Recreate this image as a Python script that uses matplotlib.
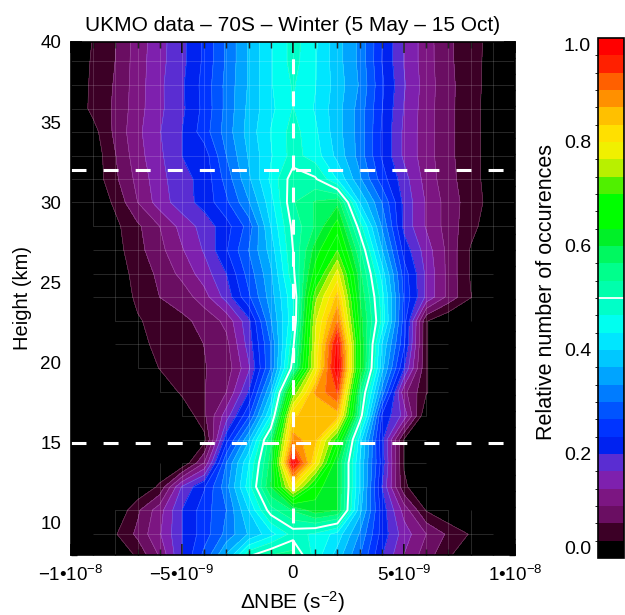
import numpy as np
import matplotlib
matplotlib.use('Agg')
import matplotlib.pyplot as plt
from matplotlib.colors import ListedColormap, BoundaryNorm
from matplotlib.collections import LineCollection
from matplotlib.ticker import FixedLocator, FixedFormatter, MultipleLocator

plt.rcParams['font.family'] = ['Liberation Sans', 'DejaVu Sans']
plt.rcParams['mathtext.fontset'] = 'custom'
plt.rcParams['mathtext.rm'] = 'Liberation Sans'
plt.rcParams['mathtext.it'] = 'Liberation Sans:italic'
plt.rcParams['mathtext.bf'] = 'Liberation Sans:bold'

# ---------------- data ----------------
dnbe_bins = [-1.0e-8, -9e-9, -8e-9, -7e-9, -6e-9, -5e-9, -4e-9, -3e-9, -2e-9, -1e-9, 0.0,
             1e-9, 2e-9, 3e-9, 4e-9, 5e-9, 6e-9, 7e-9, 8e-9, 9e-9, 1.0e-8]
heights = [7.8, 9.3, 10.8, 12.25, 13.75, 15.2, 16.7, 18.15, 19.65, 21.15, 22.6, 24.1,
           25.55, 27.0, 28.5, 30.0, 31.45, 32.9, 34.4, 35.85, 37.3, 38.8, 40.25]

occ_07_8 = [0, 0, 0, 0.035, 0.10, 0.20, 0.28, 0.38, 0.51, 0.55, 0.56, 0.45, 0.38, 0.30, 0.20, 0.13, 0.08, 0.035, 0, 0, 0]
occ_09_3 = [0, 0, 0.03, 0.075, 0.13, 0.20, 0.25, 0.31, 0.37, 0.42, 0.48, 0.46, 0.42, 0.33, 0.22, 0.15, 0.10, 0.06, 0.03, 0, 0]
occ_10_8 = [0, 0, 0, 0.06, 0.12, 0.20, 0.25, 0.30, 0.40, 0.52, 0.57, 0.62, 0.60, 0.38, 0.22, 0.12, 0.03, 0, 0, 0, 0]
occ_12_3 = [0, 0, 0, 0, 0.04, 0.17, 0.23, 0.32, 0.45, 0.60, 0.80, 0.65, 0.60, 0.40, 0.20, 0.04, 0, 0, 0, 0, 0]
occ_13_8 = [0, 0, 0, 0, 0, 0, 0.10, 0.30, 0.43, 0.58, 0.99, 0.80, 0.60, 0.40, 0.22, 0.03, 0, 0, 0, 0, 0]
occ_15_2 = [0, 0, 0, 0, 0, 0, 0.02, 0.22, 0.36, 0.56, 0.88, 0.845, 0.68, 0.42, 0.21, 0.03, 0, 0, 0, 0, 0]
occ_16_7 = [0, 0, 0, 0, 0, 0, 0.06, 0.15, 0.26, 0.435, 0.83, 0.845, 0.85, 0.53, 0.23, 0.155, 0, 0, 0, 0, 0]
occ_18_2 = [0, 0, 0, 0, 0, 0.04, 0.065, 0.10, 0.20, 0.367, 0.70, 0.87, 0.935, 0.56, 0.32, 0.11, 0.036, 0, 0, 0, 0]
occ_19_7 = [0, 0, 0, 0, 0.035, 0.05, 0.065, 0.08, 0.16, 0.30, 0.52, 0.78, 1.0, 0.64, 0.38, 0.20, 0.036, 0, 0, 0, 0]
occ_21_2 = [0, 0, 0, 0.02, 0.045, 0.055, 0.067, 0.09, 0.18, 0.30, 0.49, 0.77, 0.98, 0.64, 0.40, 0.24, 0.036, 0, 0, 0, 0]
occ_22_6 = [0, 0, 0, 0.03, 0.045, 0.06, 0.075, 0.11, 0.19, 0.33, 0.46, 0.76, 0.90, 0.62, 0.46, 0.25, 0.036, 0, 0, 0, 0]
occ_24_1 = [0, 0, 0.01, 0.04, 0.067, 0.08, 0.12, 0.18, 0.26, 0.35, 0.46, 0.72, 0.845, 0.60, 0.45, 0.26, 0.16, 0.09, 0.035, 0, 0]
occ_25_6 = [0, 0, 0.015, 0.045, 0.075, 0.11, 0.15, 0.20, 0.28, 0.36, 0.49, 0.65, 0.78, 0.58, 0.42, 0.25, 0.16, 0.09, 0.03, 0, 0]
occ_27_0 = [0, 0, 0.02, 0.055, 0.09, 0.13, 0.17, 0.23, 0.30, 0.38, 0.50, 0.615, 0.70, 0.543, 0.37, 0.22, 0.15, 0.09, 0.03, 0, 0]
occ_28_5 = [0, 0, 0.025, 0.06, 0.10, 0.145, 0.18, 0.22, 0.28, 0.40, 0.51, 0.57, 0.65, 0.483, 0.33, 0.19, 0.13, 0.085, 0.045, 0.01, 0]
occ_30_0 = [0, 0.005, 0.04, 0.10, 0.15, 0.185, 0.212, 0.26, 0.33, 0.42, 0.53, 0.57, 0.59, 0.40, 0.30, 0.19, 0.13, 0.085, 0.05, 0.02, 0]
occ_31_5 = [0, 0.01, 0.06, 0.11, 0.155, 0.19, 0.21, 0.28, 0.36, 0.44, 0.52, 0.505, 0.43, 0.34, 0.25, 0.18, 0.12, 0.078, 0.047, 0.017, 0]
occ_32_9 = [0, 0.01, 0.065, 0.12, 0.16, 0.20, 0.215, 0.30, 0.37, 0.43, 0.48, 0.45, 0.39, 0.32, 0.23, 0.16, 0.115, 0.075, 0.046, 0.017, 0]
occ_34_4 = [0, 0.02, 0.075, 0.125, 0.165, 0.20, 0.25, 0.315, 0.38, 0.435, 0.48, 0.44, 0.38, 0.32, 0.23, 0.16, 0.115, 0.075, 0.046, 0.017, 0]
occ_35_9 = [0, 0.044, 0.072, 0.12, 0.16, 0.193, 0.243, 0.31, 0.375, 0.425, 0.468, 0.43, 0.38, 0.32, 0.235, 0.165, 0.115, 0.075, 0.046, 0.017, 0]
occ_37_3 = [0, 0.042, 0.07, 0.118, 0.16, 0.195, 0.245, 0.31, 0.37, 0.43, 0.47, 0.435, 0.385, 0.33, 0.24, 0.17, 0.118, 0.075, 0.048, 0.018, 0]
occ_38_8 = [0, 0.039, 0.067, 0.117, 0.157, 0.19, 0.24, 0.305, 0.37, 0.43, 0.48, 0.436, 0.38, 0.325, 0.233, 0.165, 0.115, 0.073, 0.047, 0.02, 0]
occ_40_3 = [0, 0.035, 0.065, 0.115, 0.155, 0.19, 0.24, 0.305, 0.37, 0.43, 0.48, 0.44, 0.38, 0.325, 0.235, 0.165, 0.115, 0.072, 0.047, 0.022, 0]

ref_heights = [15, 32]          # dashed horizontal reference lines (km)
ref_dnbe = [0.0]                # dashed vertical reference line
highlight_level = 0.5           # white contour

xtick_vals = [-1e-8, -5e-9, 0.0, 5e-9, 1e-8]
xtick_labels = ['\u22121\u202210$^{-8}$', '\u22125\u202210$^{-9}$', '0', '5\u202210$^{-9}$', '1\u202210$^{-8}$']
ytick_vals = [10, 15, 20, 25, 30, 35, 40]
cbar_ticks = [0.0, 0.2, 0.4, 0.6, 0.8, 1.0]

title = 'UKMO data \u2013 70S \u2013 Winter (5 May \u2013 15 Oct)'
xlabel = '\u0394NBE (s$^{-2}$)'
ylabel = 'Height (km)'
cbar_label = 'Relative number of occurences'

# ---------------- colours ----------------
colors = ['#000000', '#3c0026', '#6a0e62', '#7c1682', '#7e20ae', '#5a2dd2',
          '#0022f0', '#0034ff', '#0054ff', '#007cff', '#00a4ff', '#00c8ff',
          '#00e6ff', '#00fff0', '#00ffc8', '#00ffac', '#00ff8c', '#00f860',
          '#00f028', '#00ff00', '#00ff00', '#50f000', '#b8f000', '#f0f000',
          '#ffe000', '#ffc000', '#ff9000', '#ff6000', '#ff2000', '#ff0000']
levels = np.linspace(0, 1, 31)
cmap = ListedColormap(colors)
norm = BoundaryNorm(levels, cmap.N)

occ = np.array([occ_07_8, occ_09_3, occ_10_8, occ_12_3, occ_13_8, occ_15_2, occ_16_7,
                occ_18_2, occ_19_7, occ_21_2, occ_22_6, occ_24_1, occ_25_6, occ_27_0,
                occ_28_5, occ_30_0, occ_31_5, occ_32_9, occ_34_4, occ_35_9, occ_37_3,
                occ_38_8, occ_40_3])
X = np.array(dnbe_bins)
Y = np.array(heights)

# ---------------- figure ----------------
W, H = 625, 615
fig = plt.figure(figsize=(W / 100, H / 100), dpi=100)
ax = fig.add_axes([71 / W, 1 - 555 / H, 444 / W, 513 / H])
ax.set_facecolor('black')

cf = ax.contourf(X, Y, occ, levels=levels, cmap=cmap, norm=norm)
ax.contour(X, Y, occ, levels=levels[1:-1], colors='white', linewidths=0.4, alpha=0.3)

# faint data-grid lines where data present
segs = []
for i in range(len(Y)):
    for j in range(len(X) - 1):
        if max(occ[i, j], occ[i, j + 1]) > 0:
            segs.append([(X[j], Y[i]), (X[j + 1], Y[i])])
for j in range(len(X)):
    for i in range(len(Y) - 1):
        if max(occ[i, j], occ[i + 1, j]) > 0:
            segs.append([(X[j], Y[i]), (X[j], Y[i + 1])])
ax.add_collection(LineCollection(segs, colors=[(1, 1, 1, 0.22)], linewidths=0.5))

ax.contour(X, Y, occ, levels=[highlight_level], colors='white', linewidths=1.4)

dash = (0, (4.9, 5.6))
for h in ref_heights:
    ax.axhline(h, color='white', lw=2.2, ls=dash)
for v in ref_dnbe:
    ax.axvline(v, color='white', lw=2.2, ls=dash)

ax.set_xlim(-1e-8, 1e-8)
ax.set_ylim(8, 40)
ax.xaxis.set_major_locator(FixedLocator(xtick_vals))
ax.xaxis.set_major_formatter(FixedFormatter(xtick_labels))
ax.xaxis.set_minor_locator(MultipleLocator(1e-9))
ax.yaxis.set_major_locator(FixedLocator(ytick_vals))
ax.yaxis.set_minor_locator(MultipleLocator(1))
ax.tick_params(which='both', direction='in', top=True, right=True, color='black', labelsize=13.5)
ax.tick_params(which='major', length=8, width=1.2)
ax.tick_params(which='minor', length=4, width=1.0)
ax.tick_params(axis='x', pad=7)
ax.tick_params(axis='y', pad=7)
for s in ax.spines.values():
    s.set_color('black')
    s.set_linewidth(1.2)

ax.set_title(title, fontsize=15, pad=8)
ax.set_xlabel(xlabel, fontsize=15, labelpad=3)
ax.set_ylabel(ylabel, fontsize=14.5, labelpad=6)

# colorbar
cax = fig.add_axes([598 / W, 1 - 558 / H, 26 / W, 520 / H])
cb = fig.colorbar(cf, cax=cax, ticks=cbar_ticks)
cb.ax.yaxis.set_ticks_position('left')
cb.ax.yaxis.set_major_formatter(FixedFormatter(['%.1f' % t for t in cbar_ticks]))
cb.ax.tick_params(length=0, labelsize=14, pad=5)
cb.outline.set_linewidth(1.2)
tl = cb.ax.get_yticklabels()
tl[0].set_va('bottom')
tl[-1].set_va('top')
cb.ax.axhline(highlight_level, color='white', lw=1.3)
fig.text(546 / W, 1 - 292 / H, cbar_label, rotation=90, ha='center', va='center', fontsize=15.5)

fig.savefig('out.png', dpi=100)
